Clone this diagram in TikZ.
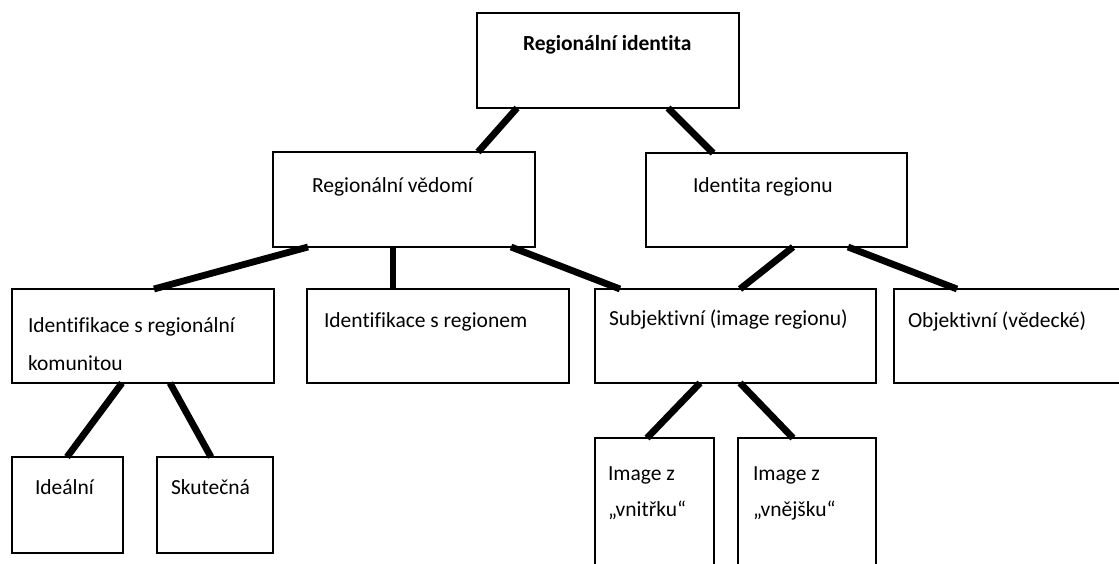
\documentclass[tikz,border=0pt]{standalone}
\usepackage{fontspec}
\setmainfont[Ligatures={NoCommon,NoContextual,NoRequired},RawFeature={-liga;-clig;-calt;-rlig;-dlig}]{Carlito}
\usetikzlibrary{calc}
\tikzset{
  box/.style={draw=black, line width=1.7pt, inner sep=0pt, outer sep=0pt, anchor=north west, fill=none},
  lbl/.style={anchor=base west, inner sep=0pt, outer sep=0pt, text=black, font=\fontsize{21.5pt}{26pt}\selectfont},
  conn/.style={line width=6.8pt, black},
}
\begin{document}
\begin{tikzpicture}[x=1pt, y=-1pt]
\useasboundingbox (0,0) rectangle (1119,563);
\fill[white] (0,0) rectangle (1119,563);
\clip (0,0) rectangle (1119,563);
% boxes
\node[box, minimum width=262pt, minimum height=95pt] (top)  at (477,13)  {};
\node[box, minimum width=262pt, minimum height=95pt] (rv)   at (273,152) {};
\node[box, minimum width=261pt, minimum height=94pt] (ir)   at (646,153) {};
\node[box, minimum width=262pt, minimum height=94pt] (isk)  at (12,289)  {};
\node[box, minimum width=262pt, minimum height=94pt] (isr)  at (307,289) {};
\node[box, minimum width=281pt, minimum height=94pt] (subj) at (595,289) {};
\node[box, minimum width=260pt, minimum height=94pt] (obj)  at (894,289) {};
\node[box, minimum width=111pt, minimum height=96pt] (ide)  at (12,457)  {};
\node[box, minimum width=116pt, minimum height=96pt] (sku)  at (157,457) {};
\node[box, minimum width=119pt, minimum height=150pt] (vni) at (595,438) {};
\node[box, minimum width=138pt, minimum height=150pt] (vne) at (738,438) {};
% texts
\node[lbl, font=\fontsize{21.5pt}{26pt}\selectfont\bfseries] (t0) at (523,50) {Regionální identita};
\node[lbl] (t1) at (312,192) {Regionální vědomí};
\node[lbl] (t2) at (693,192) {Identita regionu};
\node[lbl] (t3a) at (28,332) {Identifikace s regionální};
\node[lbl] (t3b) at (28,370) {komunitou};
\node[lbl] (t4) at (324,327) {Identifikace s regionem};
\node[lbl] (t5) at (609,325) {Subjektivní (image regionu)};
\node[lbl] (t6) at (908,327) {Objektivní (vědecké)};
\node[lbl] (t7) at (35,494) {Ideální};
\node[lbl] (t8) at (171,494) {Skutečná};
\node[lbl] (t9a) at (608,480) {Image z};
\node[lbl] (t9b) at (608,516) {„vnitřku“};
\node[lbl] (t10a) at (753,480) {Image z};
\node[lbl] (t10b) at (753,516) {„vnějšku“};
% connectors
\draw[conn] ($(top.south west)+(40,0)$) -- ($(rv.north west)+(205,0)$);
\draw[conn] ($(top.south west)+(191,0)$) -- ($(ir.north west)+(67,0)$);
\draw[conn] ($(rv.south west)+(35,0)$) -- ($(isk.north west)+(142,0)$);
\draw[conn] ($(rv.south west)+(120,0)$) -- ($(isr.north west)+(86,0)$);
\draw[conn] ($(rv.south west)+(238,0)$) -- ($(subj.north west)+(25,0)$);
\draw[conn] ($(ir.south west)+(147,0)$) -- ($(subj.north west)+(145,0)$);
\draw[conn] ($(ir.south west)+(202,0)$) -- ($(obj.north west)+(63,0)$);
\draw[conn] ($(isk.south west)+(110,0)$) -- ($(ide.north west)+(55,0)$);
\draw[conn] ($(isk.south west)+(158,0)$) -- ($(sku.north west)+(54,0)$);
\draw[conn] ($(subj.south west)+(105,0)$) -- ($(vni.north west)+(52,0)$);
\draw[conn] ($(subj.south west)+(145,0)$) -- ($(vne.north west)+(55,0)$);
\end{tikzpicture}
\end{document}
